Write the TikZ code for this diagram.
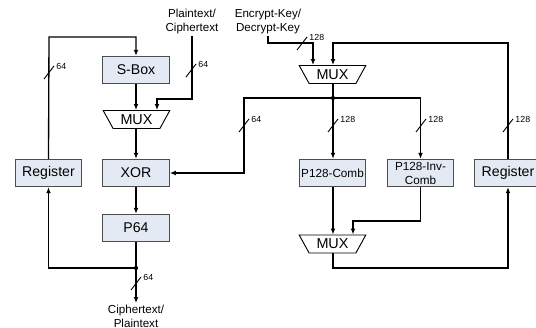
\documentclass[tikz,border=0pt]{standalone}
\usepackage{fontspec}
\setmainfont{Liberation Sans}
\usetikzlibrary{shapes.geometric,arrows.meta}
\definecolor{boxfill}{HTML}{E4EAF4}
\definecolor{boxline}{HTML}{4D4D4D}
% slash with bus width: name, position, width
\newcommand{\buswidth}[3]{%
  \draw[line width=0.7pt] (#2) ++(-5,7) -- ++(10,-13)
    node[buslabel, anchor=west] (#1) {#3};}

\begin{document}
\begin{tikzpicture}[x=0.75pt, y=-0.75pt,
  box/.style={draw=boxline, fill=boxfill, line width=0.7pt, minimum width=50pt,
    minimum height=20.5pt, inner sep=1pt, align=center,
    font=\fontsize{10.6}{12}\selectfont},
  smallbox/.style={box, font=\fontsize{8.8}{10.5}\selectfont},
  muxbox/.style={draw=black, line width=0.7pt, trapezium, shape border rotate=180,
    trapezium angle=60, trapezium stretches=true, minimum width=50pt,
    minimum height=13.5pt, inner sep=1pt, font=\fontsize{10.8}{12}\selectfont},
  iolabel/.style={align=center, inner sep=1pt, font=\fontsize{8.7}{10.5}\selectfont},
  buslabel/.style={inner sep=1.5pt, font=\fontsize{6.6}{8}\selectfont},
  bus/.style={line width=1pt},
  wire/.style={bus, -{Latex[length=4.5pt,width=3.6pt]}},
  dot/.style={circle, fill, inner sep=0pt, minimum size=3.2pt}]
  \useasboundingbox (0,0) rectangle (536,328);

  % Data path
  \node[box] (sbox) at (136,70) {S-Box};
  \node[muxbox] (mux1) at (136.5,119.5) {MUX};
  \node[box] (xor) at (136,173) {XOR};
  \node[box] (p64) at (136,228) {P64};
  \node[box] (regL) at (48.5,173) {Register};
  \node[iolabel] (ptxt) at (192,22) {Plaintext/\\Ciphertext};
  \node[iolabel] (ctxt) at (136,316) {Ciphertext/\\Plaintext};
  \node[dot] (jout) at (136,268) {};

  % Key path
  \node[iolabel] (key) at (268,22) {Encrypt-Key/\\Decrypt-Key};
  \node[muxbox] (mux2) at (332.5,74.5) {MUX};
  \node[dot] (jkey) at (333,98) {};
  \node[smallbox] (pcomb) at (332.5,173) {P128-Comb};
  \node[smallbox] (pinv) at (420.5,173) {P128-Inv-\\Comb};
  \node[box] (regR) at (508,173) {Register};
  \node[muxbox] (mux3) at (332.5,244) {MUX};

  % Bends
  \coordinate (loopL) at (49,37);
  \coordinate (ptbend) at (157,99);
  \coordinate (keybend) at (313,43);
  \coordinate (fbbend) at (333,43);
  \coordinate (kturn) at (244,173);
  \coordinate (invbend) at (353,221);
  \coordinate (outbend) at (333,268);

  % Wires, data path
  \draw[wire] (regL.north) -- (loopL) -| (sbox.north);
  \draw[wire] (sbox.south) -- (sbox.south |- mux1.north);
  \draw[wire] (ptxt.south) |- (ptbend) -- (ptbend |- mux1.north);
  \draw[wire] (mux1.south -| xor.north) -- (xor.north);
  \draw[wire] (xor.south) -- (p64.north);
  \draw[bus] (p64.south) -- (jout.center);
  \draw[wire] (jout.center) -- (ctxt.north);
  \draw[wire] (jout.center) -| (regL.south);

  % Wires, key path
  \draw[wire] (key.south) |- (keybend) -- (keybend |- mux2.north);
  \draw[wire] (regR.north) |- (fbbend) -- (fbbend |- mux2.north);
  \draw[bus] (mux2.south -| jkey) -- (jkey.center);
  \draw[wire] (jkey.center) -| (kturn) -- (xor.east);
  \draw[wire] (jkey.center) -- (jkey |- pcomb.north);
  \draw[wire] (jkey.center) -| (pinv.north);
  \draw[wire] (pcomb.south -| jkey) -- (jkey |- mux3.north);
  \draw[wire] (pinv.south) |- (invbend) -- (invbend |- mux3.north);
  \draw[wire] (mux3.south -| jkey) -- (outbend) -| (regR.south);

  % Bus widths
  \buswidth{wL}{49,72}{64}
  \buswidth{wP}{191,70}{64}
  \buswidth{wO}{136,283}{64}
  \buswidth{wK}{302,43}{128}
  \buswidth{wX}{244,125}{64}
  \buswidth{wC}{333,125}{128}
  \buswidth{wI}{421,125}{128}
  \buswidth{wR}{508,125}{128}
\end{tikzpicture}
\end{document}
